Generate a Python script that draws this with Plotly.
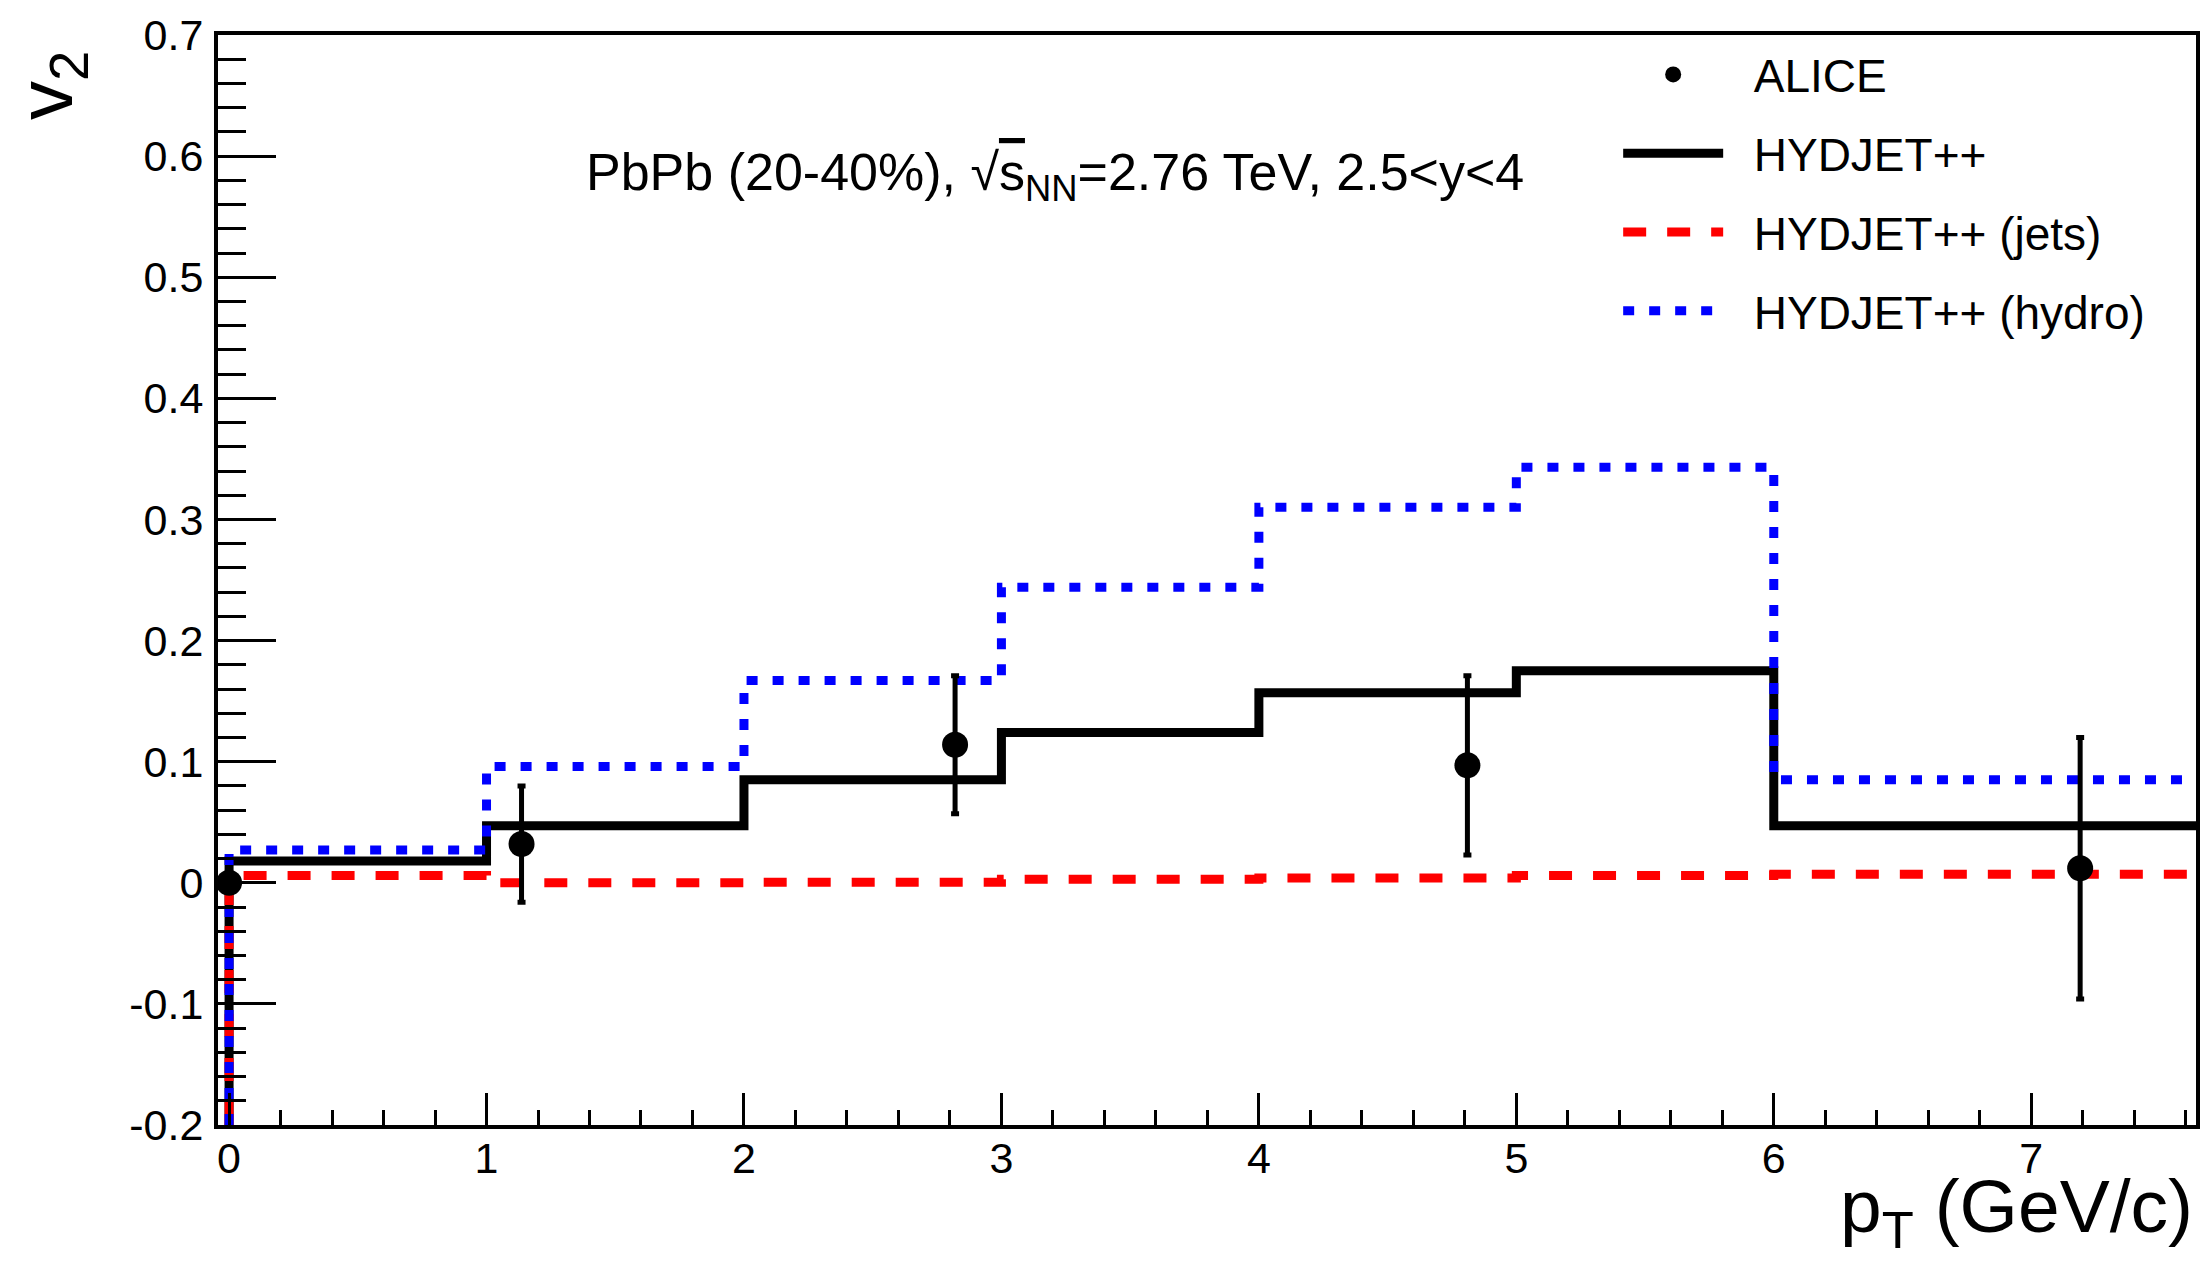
import plotly.graph_objects as go

# ---------------- data ----------------
bin_edges = [0, 1, 2, 3, 4, 5, 6, 8]
v2_hydjet = [0.018, 0.047, 0.085, 0.124, 0.157, 0.175, 0.047]
v2_jets = [0.006, 0.000, 0.0005, 0.003, 0.004, 0.006, 0.007]
v2_hydro = [0.027, 0.096, 0.167, 0.244, 0.310, 0.343, 0.085]

alice_pt = [0.0, 1.136, 2.82, 4.81, 7.19]
alice_v2 = [0.0, 0.032, 0.114, 0.097, 0.012]
alice_err_up = [0.0, 0.048, 0.057, 0.074, 0.108]
alice_err_down = [0.0, 0.048, 0.057, 0.074, 0.108]

x_tick_vals = [0, 1, 2, 3, 4, 5, 6, 7]
x_tick_labels = ["0", "1", "2", "3", "4", "5", "6", "7"]
y_tick_vals = [-0.2, -0.1, 0.0, 0.1, 0.2, 0.3, 0.4, 0.5, 0.6, 0.7]
y_tick_labels = ["-0.2", "-0.1", "0", "0.1", "0.2", "0.3", "0.4", "0.5", "0.6", "0.7"]

x_range = [-0.043, 7.64]
y_range = [-0.2, 0.7]

W, H = 2211, 1261
ML, MR, MT, MB = 218, 11, 29, 136

FONT = "Liberation Sans"
NB = "\u00a0\u00a0"


def step_xy(values):
    xs = [bin_edges[0]] + list(bin_edges)
    ys = [y_range[0]] + list(values) + [values[-1]]
    return xs, ys


fig = go.Figure()

for name, vals, color, dash, rank in [
    ("HYDJET++", v2_hydjet, "black", "solid", 2),
    ("HYDJET++ (jets)", v2_jets, "#ff0000", "23px,21px", 3),
    ("HYDJET++ (hydro)", v2_hydro, "#0000ff", "11px,15px", 4),
]:
    xs, ys = step_xy(vals)
    fig.add_trace(go.Scatter(
        x=xs, y=ys, mode="lines", name=NB + name,
        line=dict(color=color, width=9, dash=dash, shape="hv"),
        legendrank=rank, legendgroup=name,
    ))

fig.add_trace(go.Scatter(
    x=alice_pt, y=alice_v2, mode="markers", name=NB + "ALICE",
    marker=dict(color="black", size=26, symbol="circle"),
    error_y=dict(type="data", symmetric=False, array=alice_err_up,
                 arrayminus=alice_err_down, color="black", thickness=5, width=4),
    legendrank=1, legendgroup="ALICE",
))

axis_common = dict(
    showline=True, linecolor="black", linewidth=4, mirror=True,
    showgrid=False, zeroline=False, ticks="inside", tickcolor="black",
    tickwidth=3, tickfont=dict(family=FONT, size=43, color="black"),
)

fig.update_xaxes(
    range=x_range, tickvals=x_tick_vals, ticktext=x_tick_labels, ticklen=32,
    minor=dict(dtick=0.2, ticks="inside", ticklen=15, tickwidth=3, tickcolor="black", showgrid=False),
    ticklabelstandoff=-8,
    **axis_common,
)
fig.update_yaxes(
    range=y_range, tickvals=y_tick_vals, ticktext=y_tick_labels, ticklen=58,
    minor=dict(dtick=0.02, ticks="inside", ticklen=28, tickwidth=3, tickcolor="black", showgrid=False),
    ticklabelstandoff=2,
    **axis_common,
)

pw = W - ML - MR
ph = H - MT - MB


def px_x(p):
    return (p - ML) / pw


def px_y(p):
    return (H - MB - p) / ph


fig.add_annotation(
    text="PbPb (20-40%), \u221a<span style='text-decoration:overline'>s</span><sub>NN</sub>=2.76 TeV, 2.5<y<4",
    xref="paper", yref="paper", x=px_x(1057), y=px_y(171),
    xanchor="center", yanchor="middle", showarrow=False,
    font=dict(family=FONT, size=52, color="black"),
)
fig.add_annotation(
    text="v<sub>2</sub>", textangle=-90,
    xref="paper", yref="paper", x=px_x(50), y=px_y(80),
    xanchor="center", yanchor="middle", showarrow=False,
    font=dict(family=FONT, size=78, color="black"),
)
fig.add_annotation(
    text="p<sub>T</sub> (GeV/c)",
    xref="paper", yref="paper", x=px_x(2199), y=px_y(1212),
    xanchor="right", yanchor="middle", showarrow=False,
    font=dict(family=FONT, size=75, color="black"),
)

fig.update_layout(
    width=W, height=H,
    margin=dict(l=ML, r=MR, t=MT, b=MB, pad=0),
    paper_bgcolor="white", plot_bgcolor="white",
    showlegend=True,
    legend=dict(
        x=px_x(1621), y=px_y(32), xanchor="left", yanchor="top",
        bgcolor="rgba(0,0,0,0)", borderwidth=0,
        font=dict(family=FONT, size=46, color="black"),
        itemwidth=100, tracegroupgap=16, traceorder="grouped",
    ),
)

fig.write_html("out.html")
